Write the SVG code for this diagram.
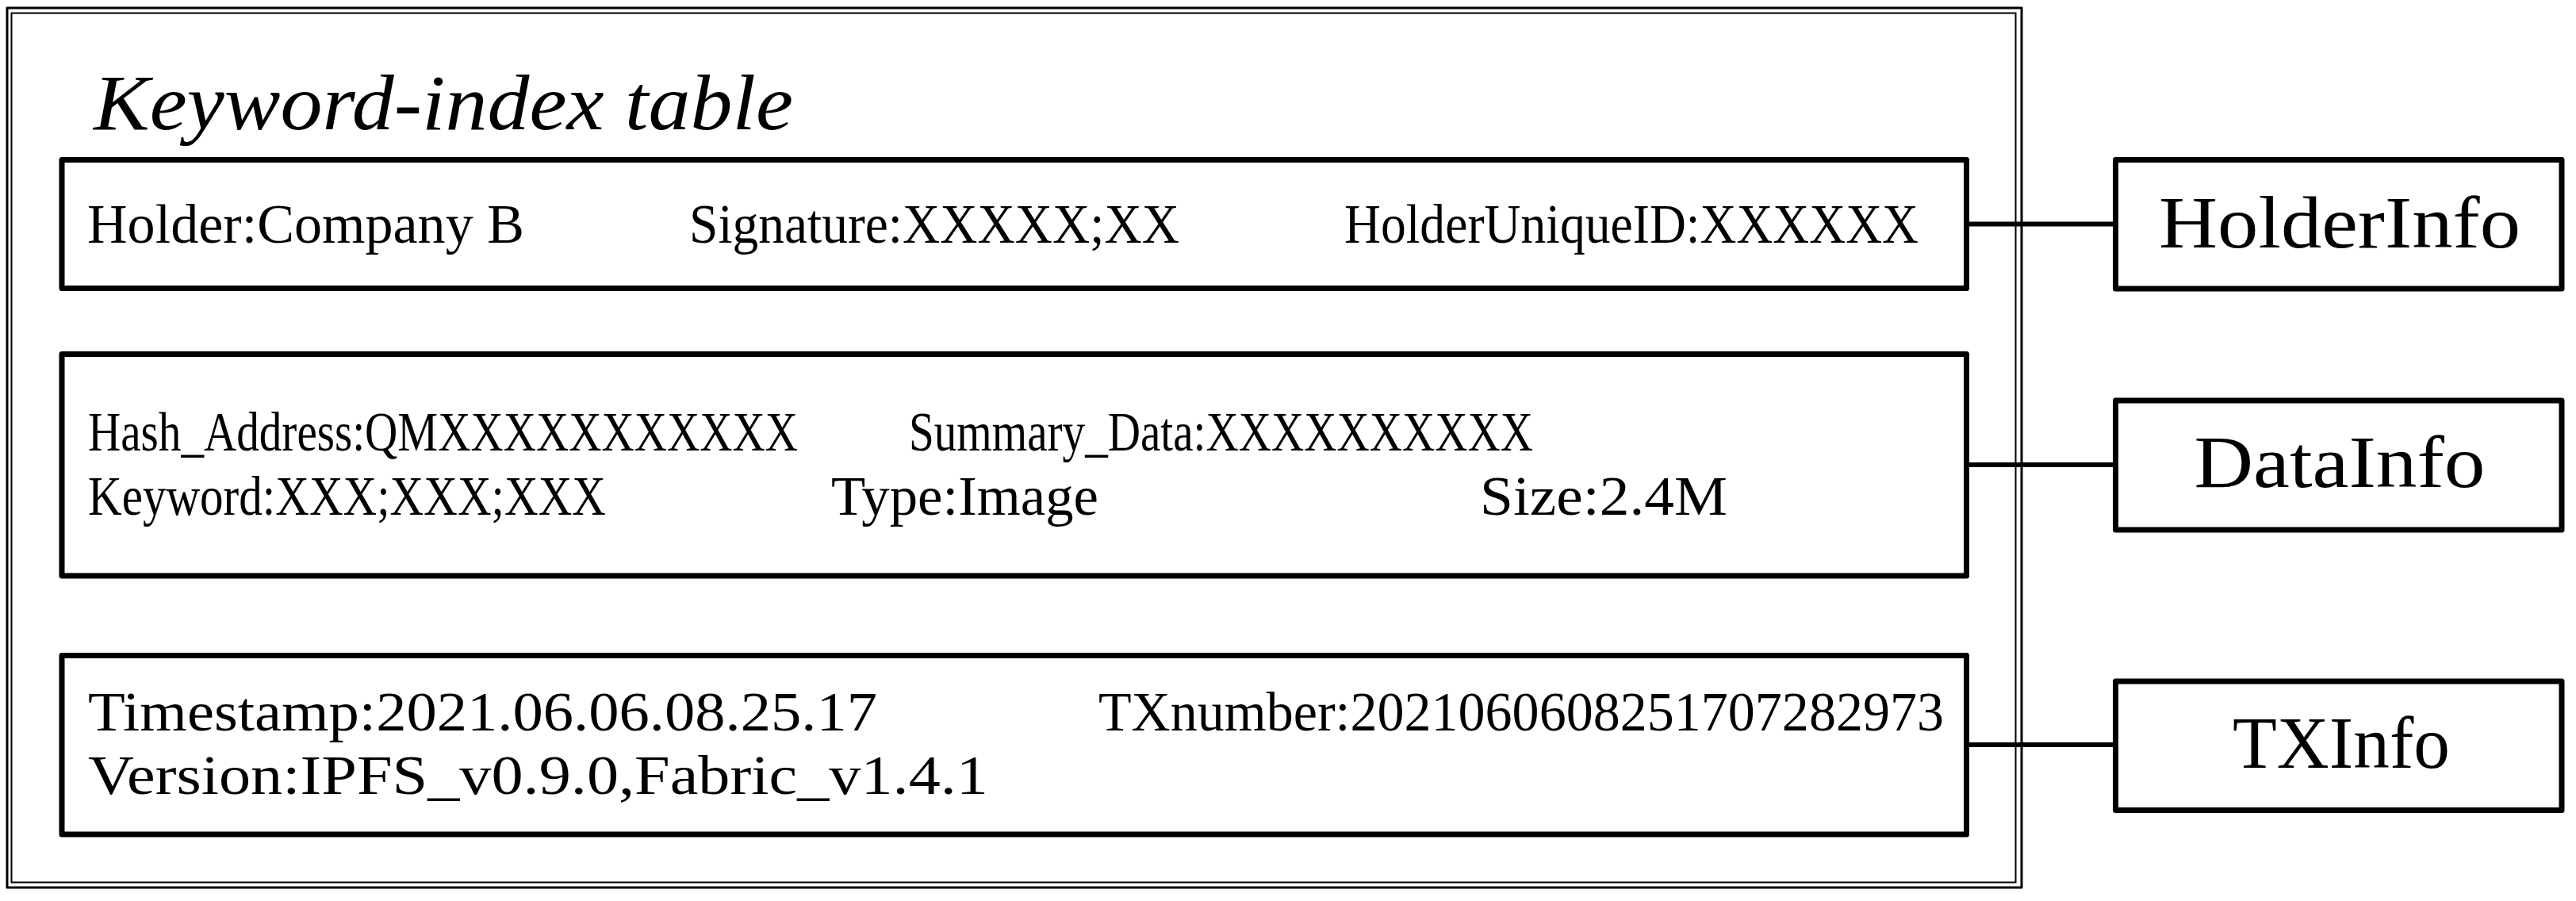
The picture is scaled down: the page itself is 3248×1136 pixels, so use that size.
<svg xmlns="http://www.w3.org/2000/svg" width="3248" height="1136" viewBox="0 0 3248 1136">
<style>
.frame{fill:none;stroke:#000}
.box{fill:#fff;stroke:#000;stroke-width:7;stroke-linejoin:round}
.t{font-family:"Liberation Serif","Times New Roman",serif;font-size:70px;fill:#000}
.title{font-family:"Liberation Serif","Times New Roman",serif;font-size:100px;font-style:italic;fill:#000}
.lbl{font-family:"Liberation Serif","Times New Roman",serif;font-size:94px;fill:#000;text-anchor:middle}
.conn{stroke:#000;stroke-width:6;fill:none}
</style>
<rect width="3248" height="1136" fill="#fff"/>
<g id="keyword-index-table">
<rect class="frame" x="9" y="10" width="2540" height="1109" stroke-width="3" stroke-linejoin="round"/>
<rect class="frame" x="14.5" y="16.5" width="2527" height="1096" stroke-width="2"/>
<text class="title" x="118" y="163" textLength="882" lengthAdjust="spacingAndGlyphs">Keyword-index table</text>
</g>
<g id="connectors">
<line class="conn" x1="2480" y1="282.5" x2="2667.5" y2="282.5"/>
<line class="conn" x1="2480" y1="586" x2="2667.5" y2="586"/>
<line class="conn" x1="2480" y1="939" x2="2667.5" y2="939"/>
</g>
<g id="holder-row">
<rect class="box" x="78" y="201.5" width="2401.5" height="162"/>
<text class="t" x="110" y="306" textLength="551" lengthAdjust="spacingAndGlyphs">Holder:Company B</text>
<text class="t" x="869" y="306" textLength="618" lengthAdjust="spacingAndGlyphs">Signature:XXXXX;XX</text>
<text class="t" x="1695" y="306" textLength="724" lengthAdjust="spacingAndGlyphs">HolderUniqueID:XXXXXX</text>
</g>
<g id="data-row">
<rect class="box" x="78" y="446.5" width="2401.5" height="279.5"/>
<text class="t" x="111" y="568" textLength="895" lengthAdjust="spacingAndGlyphs">Hash_Address:QMXXXXXXXXXXX</text>
<text class="t" x="1146" y="568" textLength="787" lengthAdjust="spacingAndGlyphs">Summary_Data:XXXXXXXXXX</text>
<text class="t" x="111" y="649" textLength="653" lengthAdjust="spacingAndGlyphs">Keyword:XXX;XXX;XXX</text>
<text class="t" x="1048" y="649" textLength="337" lengthAdjust="spacingAndGlyphs">Type:Image</text>
<text class="t" x="1866" y="649" textLength="312" lengthAdjust="spacingAndGlyphs">Size:2.4M</text>
</g>
<g id="tx-row">
<rect class="box" x="78" y="826.5" width="2401.5" height="225.5"/>
<text class="t" x="111" y="921" textLength="995" lengthAdjust="spacingAndGlyphs">Timestamp:2021.06.06.08.25.17</text>
<text class="t" x="1385" y="921" textLength="1066" lengthAdjust="spacingAndGlyphs">TXnumber:2021060608251707282973</text>
<text class="t" x="111" y="1001" textLength="1135" lengthAdjust="spacingAndGlyphs">Version:IPFS_v0.9.0,Fabric_v1.4.1</text>
</g>
<g id="holderinfo">
<rect class="box" x="2667.5" y="201.5" width="562.5" height="162.5"/>
<text class="lbl" x="2950" y="312" textLength="456" lengthAdjust="spacingAndGlyphs">HolderInfo</text>
</g>
<g id="datainfo">
<rect class="box" x="2667.5" y="505" width="562.5" height="163"/>
<text class="lbl" x="2950" y="614" textLength="367" lengthAdjust="spacingAndGlyphs">DataInfo</text>
</g>
<g id="txinfo">
<rect class="box" x="2667.5" y="859" width="562.5" height="162.5"/>
<text class="lbl" x="2952" y="968" textLength="274" lengthAdjust="spacingAndGlyphs">TXInfo</text>
</g>
</svg>
